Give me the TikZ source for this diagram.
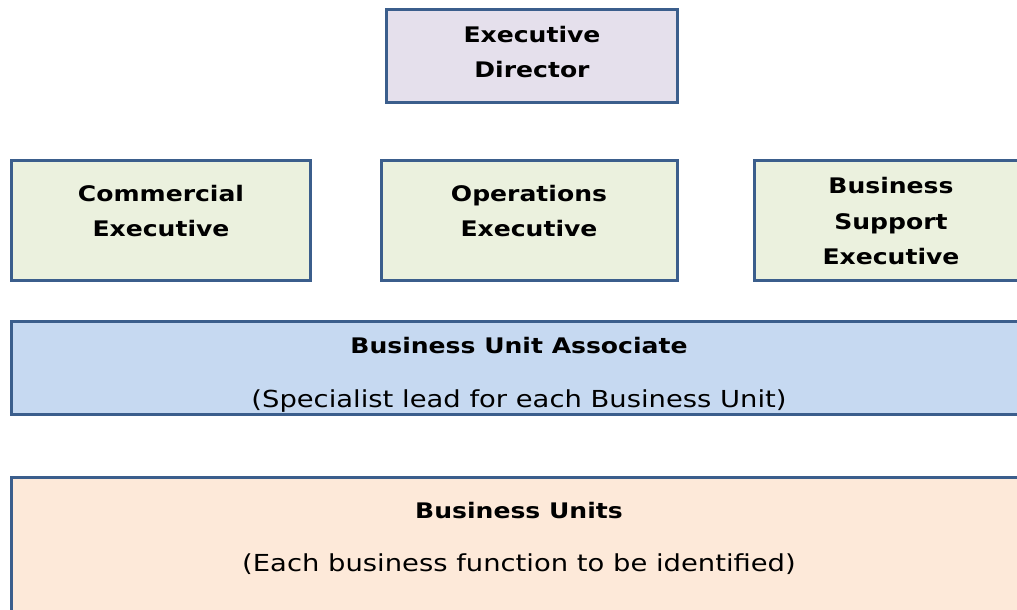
\documentclass[tikz,border=0pt]{standalone}
\usepackage{fontspec}
\setmainfont{DejaVu Sans}[FakeStretch=1.17]
\definecolor{edgeblue}{HTML}{3B5E8C}
\definecolor{fillpurple}{HTML}{E5E0EC}
\definecolor{fillgreen}{HTML}{EBF1DE}
\definecolor{fillblue}{HTML}{C6D9F1}
\definecolor{fillpeach}{HTML}{FDE9D9}
\tikzset{
  orgbox/.style={draw=edgeblue, line width=3bp, inner sep=0pt, anchor=north west},
  boldtxt/.style={font=\fontsize{21.5}{36}\selectfont\bfseries, align=center, inner sep=0pt, anchor=base},
  normtxt/.style={font=\fontsize{23.5}{36}\selectfont, align=center, inner sep=0pt, anchor=base},
}
\begin{document}
\begin{tikzpicture}[x=1bp,y=-1bp]
\fill[white] (0,0) rectangle (1017,610);
\begin{scope}
\clip (0,0) rectangle (1017,610);
% boxes
\node[orgbox, fill=fillpurple, minimum width=291bp, minimum height=93bp] (ed) at (385,8) {};
\node[orgbox, fill=fillgreen, minimum width=299bp, minimum height=120bp] (ce) at (10,159) {};
\node[orgbox, fill=fillgreen, minimum width=296bp, minimum height=120bp] (oe) at (380,159) {};
\node[orgbox, fill=fillgreen, minimum width=300bp, minimum height=120bp] (bse) at (753,159) {};
\node[orgbox, fill=fillblue, minimum width=1030bp, minimum height=93bp] (bua) at (10,320) {};
\node[orgbox, fill=fillpeach, minimum width=1030bp, minimum height=160bp] (bu) at (10,476) {};
\end{scope}
% texts (anchored at the baseline of their last line)
\node[boldtxt] (edt) at (532,78) {Executive\\Director};
\node[boldtxt] (cet) at (161,237) {Commercial\\Executive};
\node[boldtxt] (oet) at (529,237) {Operations\\Executive};
\node[boldtxt] (bset) at (891,265) {Business\\Support\\Executive};
\node[boldtxt] (buat) at (519,353) {Business Unit Associate};
\node[normtxt] (buas) at (519,407) {(Specialist lead for each Business Unit)};
\node[boldtxt] (but) at (519,518) {Business Units};
\node[normtxt] (bus) at (519,571) {(Each business function to be identified)};
\pgfresetboundingbox
\useasboundingbox (0,0) rectangle (1017,610);
\end{tikzpicture}
\end{document}
